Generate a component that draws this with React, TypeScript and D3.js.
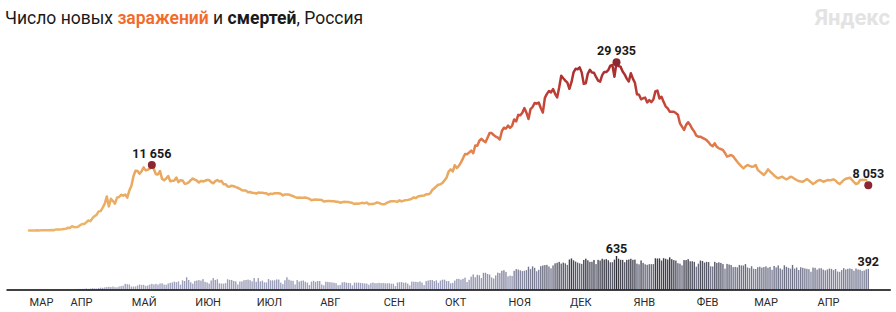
import React from "react";
import * as d3 from "d3";

// ---------- DATA ----------
const START = new Date(Date.UTC(2020, 2, 12)); // first day of data

const casesMar20 = [6,17,14,4,30,21,33,52,54,53,61,71,57,163,182,196,228,270,302,500];
const casesApr20 = [440,771,601,582,658,954,1154,1175,1459,1786,1667,2186,2558,2774,3388,3448,4070,4785,6060,4268,5642,5236,4774,5849,5966,6361,6198,6411,5841,7099];
const casesMay20 = [7933,9623,10633,10581,10102,10559,11231,10699,10817,11012,11656,10899,10028,9974,10598,9200,8926,9263,9709,8764,8849,8894,9434,8599,8946,8915,8338,8371,8572,8952,9268];
const casesJun20 = [9035,8863,8536,8831,8726,8855,8984,8985,8595,8404,8779,8987,8706,8835,8246,8248,7843,7790,7972,7889,7728,7600,7425,7176,7113,7102,6800,6852,6719,6693];
const casesJul20 = [6556,6760,6718,6736,6632,6611,6368,6562,6509,6635,6611,6615,6537,6248,6422,6428,6406,6234,6109,5940,5842,5862,5848,5811,5871,5765,5635,5395,5475,5509,5482];
const casesAug20 = [5462,5427,5159,5204,5241,5267,5212,5189,5118,5102,4945,5041,5102,5061,5076,4969,4892,4718,4790,4767,4870,4921,4852,4969,4676,4696,4711,4829,4980,4897,4729];
const casesSep20 = [4670,4729,4952,5110,5205,5195,5185,5099,5363,5172,5310,5406,5449,5509,5670,5905,5762,6065,6148,6196,6215,6431,6431,6595,7212,7523,7867,8135,8232,8481];
const casesOct20 = [8945,9412,10499,10888,10499,11615,11115,11493,12126,12846,13634,13592,13868,14231,13754,15150,15099,15982,16319,15971,15700,16500,17340,17347,17001,16710,16550,16202,17717,18283,18140];
const casesNov20 = [18665,18257,18648,19768,19404,20582,20498,20977,21798,20977,19851,21608,21983,22702,22572,22778,21798,20985,23610,24318,24822,24581,25173,24326,23675,25487,27543,27100,26683,26338];
const casesDec20 = [25228,26402,28145,28782,28709,29039,28142,26097,26190,27927,28585,28137,28080,27328,26689,26509,27656,28214,28209,28552,29350,29450,27380,29935,29258,29150,28284,27787,27039,26513,27980];
const casesJan21 = [27029,26301,24246,24150,23351,23541,23652,22800,23200,22851,23315,24763,24900,23510,23800,22900,22100,21750,21150,21127,21150,20900,20591,19080,18500,17900,18800,19260,18780,18100,17600];
const casesFeb21 = [16900,16700,16700,16500,16300,16100,15700,15220,15000,15520,14900,14630,14500,14330,13800,13140,13300,13440,13200,12700,12250,11800,11400,11060,11400,11660,11500,11360];
const casesMar21 = [11400,11660,10800,10470,10200,9880,10300,10890,10500,10170,9800,9500,9290,9450,9580,9300,9110,9300,9580,9450,9200,8990,8800,8700,8690,8900,9170,8900,8600,8280,8500];
const casesApr21 = [8800,8990,8900,8690,8800,8990,8950,9000,9100,8900,8500,8280,8600,8990,9200,9300,9400,9000,8600,8280,8400,8990,9000,8990,8990,8053];

const deathsMar20 = [0,0,0,0,0,0,0,1,0,0,0,0,0,1,2,1,3,4,1,8];
const deathsApr20 = [2,4,2,9,11,11,11,13,20,12,18,24,22,18,28,36,33,41,48,51,47,57,44,42,58,66,72,108,101,96];
const deathsMay20 = [57,56,58,76,95,86,88,70,76,94,107,96,107,93,113,119,94,91,115,127,135,150,139,153,92,174,161,232,181,138,111];
const deathsJun20 = [162,171,178,169,197,144,134,112,171,216,181,194,119,113,111,121,194,182,181,161,154,95,153,154,176,181,188,176,154,216];
const deathsJul20 = [147,216,154,168,135,135,198,173,174,174,192,188,130,102,175,232,186,169,165,95,179,150,165,171,147,130,85,150,165,146,161];
const deathsAug20 = [161,95,80,147,144,139,134,129,120,80,87,134,139,131,124,122,78,131,129,131,124,120,116,113,90,120,132,120,120,127,121];
const deathsSep20 = [123,119,117,119,110,110,66,132,138,141,129,131,113,77,150,148,145,141,154,132,84,159,170,179,180,159,174,127,170,186];
const deathsOct20 = [186,160,158,117,127,170,201,202,186,202,225,142,184,244,286,232,279,269,216,317,317,295,283,229,209,267,320,312,355,366,334];
const deathsNov20 = [249,264,256,355,386,378,362,349,356,368,432,387,439,411,346,374,442,456,463,467,436,401,456,496,507,524,491,510,496,466];
const deathsDec20 = [569,589,554,530,510,496,486,560,585,554,524,526,560,482,562,549,583,567,577,555,516,517,566,635,584,563,561,517,562,568,583];
const deathsJan21 = [562,567,490,477,550,504,478,468,480,480,482,592,587,590,549,594,583,568,610,575,557,548,499,490,458,558,557,575,536,536,524];
const deathsFeb21 = [434,490,549,541,511,524,520,440,436,525,504,515,504,482,395,485,474,465,424,428,421,466,456,455,482,419,405,442];
const deathsMar21 = [393,389,423,432,415,424,438,412,428,373,446,419,456,400,379,459,430,411,396,465,397,417,370,422,411,400,393,385,337,415,410];
const deathsApr21 = [377,401,404,377,362,380,397,391,367,388,341,334,368,405,380,392,399,388,356,398,380,374,350,361,382,392];

const monthLabels = ["МАР","АПР","МАЙ","ИЮН","ИЮЛ","АВГ","СЕН","ОКТ","НОЯ","ДЕК","ЯНВ","ФЕВ","МАР","АПР"];

const cases = [casesMar20,casesApr20,casesMay20,casesJun20,casesJul20,casesAug20,casesSep20,casesOct20,casesNov20,casesDec20,casesJan21,casesFeb21,casesMar21,casesApr21].flat();
const deaths = [deathsMar20,deathsApr20,deathsMay20,deathsJun20,deathsJul20,deathsAug20,deathsSep20,deathsOct20,deathsNov20,deathsDec20,deathsJan21,deathsFeb21,deathsMar21,deathsApr21].flat();

// ---------- LAYOUT ----------
const W = 896, H = 312;
const FONT = "Roboto, 'Noto Sans', Arial, sans-serif";

const dates = cases.map((_, i) => d3.utcDay.offset(START, i));

const x = d3.scaleUtc()
  .domain([new Date(Date.UTC(2020, 2, 1)), new Date(Date.UTC(2021, 4, 7))])
  .range([6.5, 890.8]);
const yC = d3.scaleLinear().domain([0, 30000]).range([230.5, 61.96]);
const yD = d3.scaleLinear().domain([0, 635]).range([289.5, 256]);

const lineColor = d3.scaleLinear<string>()
  .domain([0, 11000, 15000, 21000, 30000])
  .range(["#edb468", "#e9a65e", "#e27c4a", "#cc4a3a", "#a3292d"])
  .clamp(true);
const barColor = d3.scaleLinear<string>()
  .domain([0, 300, 470, 635])
  .range(["#a8abc5", "#9295b0", "#6c6e81", "#2c2c33"])
  .clamp(true);

const fmt = d3.formatLocale({ decimal: ",", thousands: "\u00a0", grouping: [3], currency: ["", ""] }).format(",");

export default function App() {
  const lineIdx = d3.range(cases.length - 1);
  const line = d3.line<number>()
    .x((i) => x(dates[i]))
    .y((i) => yC(cases[i]));

  const x0 = x(dates[0]);
  const x1 = x(dates[cases.length - 2]);

  const iMaxC = d3.maxIndex(cases);
  const iMaxD = d3.maxIndex(deaths);
  const iLast = cases.length - 1;
  const iSpring = d3.maxIndex(cases.slice(0, 120));

  const months = d3.utcMonth.range(new Date(Date.UTC(2020, 2, 1)), new Date(Date.UTC(2021, 4, 1)));

  const barW = 1.4;

  const marks = [iSpring, iMaxC, iLast];

  return (
    <svg width={W} height={H} style={{ position: "absolute", left: 0, top: 0, background: "#fff" }}
      fontFamily={FONT}>
      <defs>
        <linearGradient id="lg" gradientUnits="userSpaceOnUse" x1={x0} x2={x1} y1={0} y2={0}>
          {lineIdx.map((i) => (
            <stop key={i} offset={(x(dates[i]) - x0) / (x1 - x0)} stopColor={lineColor(cases[i])} />
          ))}
        </linearGradient>
      </defs>

      {/* title */}
      <text x={5} y={24} fontSize={17.5} fill="#1a1a1a">
        <tspan>Число новых </tspan>
        <tspan fill="#f26b2a" fontWeight={600}>заражений</tspan>
        <tspan> и </tspan>
        <tspan fontWeight={700}>смертей</tspan>
        <tspan>, Россия</tspan>
      </text>
      <text x={890} y={25} textAnchor="end" fontSize={22} fontWeight={700} fill="#e3e3e3">Яндекс</text>

      {/* death bars */}
      {deaths.map((d, i) => d > 0 ? (
        <rect key={i} x={x(dates[i]) - barW / 2} y={yD(d)} width={barW} height={yD(0) - yD(d)} fill={barColor(d)} />
      ) : null)}

      {/* cases line */}
      <path d={line(lineIdx) || ""} fill="none" stroke="url(#lg)" strokeWidth={2.5} strokeLinejoin="round" strokeLinecap="round" />

      {/* axis */}
      <line x1={x.range()[0]} x2={x.range()[1]} y1={290} y2={290} stroke="#000" strokeWidth={1.5} />
      {months.map((m, i) => (
        <text key={i} x={x(m < START ? START : m) + 0.5} y={306} fontSize={11} fill="#2a2a2a">{monthLabels[i]}</text>
      ))}

      {/* highlights */}
      {marks.map((i) => (
        <g key={i}>
          <circle cx={x(dates[i])} cy={yC(cases[i])} r={4} fill="#8c2630" />
          <text x={x(dates[i])} y={yC(cases[i]) - 7} textAnchor="middle" fontSize={12.5} fontWeight={700} fill="#1a1a1a">{fmt(cases[i])}</text>
        </g>
      ))}

      <text x={x(dates[iMaxD])} y={yD(deaths[iMaxD]) - 3} textAnchor="middle" fontSize={12.5} fontWeight={700} fill="#1a1a1a">{fmt(deaths[iMaxD])}</text>
      <text x={x(dates[iLast])} y={yD(deaths[iLast]) - 3} textAnchor="middle" fontSize={12.5} fontWeight={700} fill="#1a1a1a">{fmt(deaths[iLast])}</text>
    </svg>
  );
}
